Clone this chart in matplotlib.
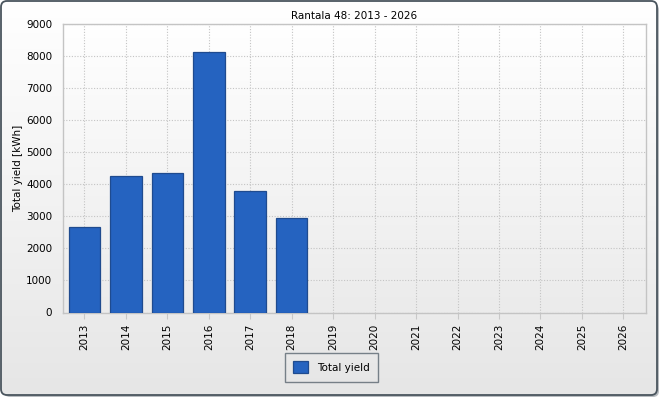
import matplotlib
matplotlib.use("Agg")
import matplotlib.pyplot as plt
import numpy as np
from matplotlib.patches import FancyBboxPatch, Patch
from matplotlib.colors import LinearSegmentedColormap

years = [str(y) for y in range(2013, 2027)]
yields = [2655, 4252, 4336, 8125, 3775, 2934, 0, 0, 0, 0, 0, 0, 0, 0]
title = "Rantala 48: 2013 - 2026"
ylabel = "Total yield [kWh]"
legend_label = "Total yield"

W, H = 662, 400
plt.rcParams['font.family'] = ['DejaVu Sans']
fig = plt.figure(figsize=(W / 100, H / 100), dpi=100)

# background with rounded frame
bg = fig.add_axes([0, 0, 1, 1])
bg.set_xlim(0, W)
bg.set_ylim(H, 0)
bg.axis('off')
bg.add_patch(FancyBboxPatch((4, 4), W - 7, H - 7,
                            boxstyle="round,pad=0,rounding_size=6",
                            fc="#b8bcc0", ec="none", zorder=0))
grad = np.linspace(1.0, 0.0, 256).reshape(-1, 1)
cmap_bg = LinearSegmentedColormap.from_list("bgc", ["#e6e6e6", "#ffffff"])
im = bg.imshow(grad, extent=(1, W - 5, H - 5, 1), cmap=cmap_bg, aspect='auto', zorder=1)
im.set_clip_path(FancyBboxPatch((1, 1), W - 6, H - 6,
                                boxstyle="round,pad=0,rounding_size=6",
                                transform=bg.transData))
bg.add_patch(FancyBboxPatch((1, 1), W - 6, H - 6,
                            boxstyle="round,pad=0,rounding_size=6",
                            fc="none", ec="#4a555e", lw=1.3, zorder=3))

ax = fig.add_axes([63.3 / W, 1 - 312.5 / H, (645.7 - 63.3) / W, (312.5 - 23.5) / H])
ax.set_facecolor("none")
cmap_ax = LinearSegmentedColormap.from_list("axc", ["#ebebeb", "#ffffff"])
ax.imshow(grad, extent=(0, 1, 0, 1), transform=ax.transAxes, cmap=cmap_ax,
          aspect='auto', zorder=0)

x = np.arange(len(years))
edge_w = [0.9 if v > 0 else 0 for v in yields]
ax.bar(x, yields, width=0.76, color="#2563c0", edgecolor="#1f4b8f",
       linewidth=edge_w, zorder=3)
ax.set_xlim(-0.51, len(years) - 0.46)
ax.set_ylim(0, 9000)
ax.set_yticks(np.arange(0, 9001, 1000))
ax.set_xticks(x)
ax.set_xticklabels(years, rotation=90, fontsize=7.5)
ax.tick_params(axis='y', length=0, pad=8, labelsize=7.5)
ax.tick_params(axis='x', length=4, width=0.8, color="#c8c8c8", pad=4)
ax.grid(True, color="#c4c4c4", linestyle=(0, (1, 1.5)), linewidth=0.8, zorder=1)
ax.set_axisbelow(True)
for s in ax.spines.values():
    s.set_color("#c4c4c4")
    s.set_linewidth(1.0)

ax.set_ylabel(ylabel, fontsize=7.5, labelpad=2)
ax.set_title(title, fontsize=7.5, pad=3)

handle = Patch(facecolor="#2563c0", edgecolor="#1f4b8f", linewidth=0.9)
leg = fig.legend([handle], [legend_label], loc='center',
                 bbox_to_anchor=(331.3 / W, 1 - 367.3 / H),
                 fontsize=7.5, frameon=True, fancybox=False,
                 handlelength=1.4, handleheight=1.4, borderpad=0.8,
                 handletextpad=0.9, borderaxespad=0)
leg.get_frame().set_edgecolor("#5a6670")
leg.get_frame().set_facecolor("none")
leg.get_frame().set_linewidth(1.0)

fig.savefig("out.png", dpi=100)
